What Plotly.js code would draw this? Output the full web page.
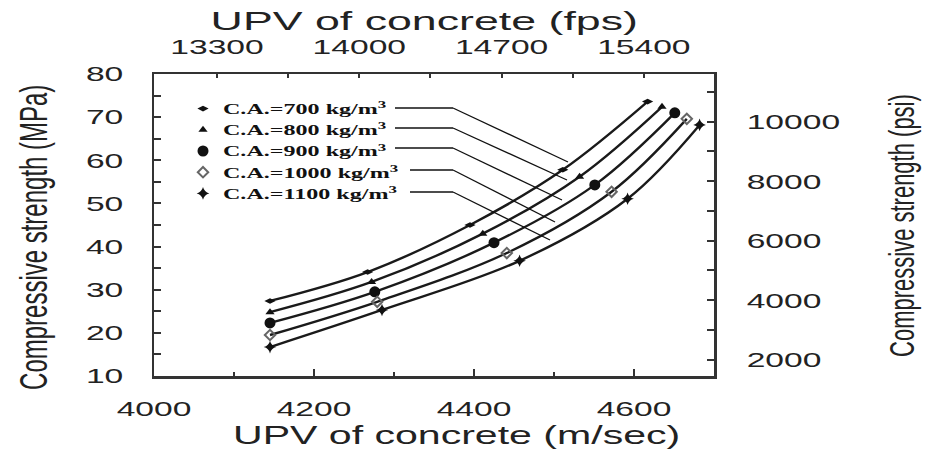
<!DOCTYPE html>
<html>
<head>
<meta charset="utf-8">
<script src="https://cdn.plot.ly/plotly-3.0.1.min.js"></script>
<style>
html,body{margin:0;padding:0;background:#fff;}
#chart{width:928px;height:450px;}
</style>
</head>
<body>
<div id="chart"></div>
<script>
// ---- data ----
const seriesNames = ["C.A.=700 kg/m<sup>3</sup>", "C.A.=800 kg/m<sup>3</sup>", "C.A.=900 kg/m<sup>3</sup>", "C.A.=1000 kg/m<sup>3</sup>", "C.A.=1100 kg/m<sup>3</sup>"];
const upv700  = [4145, 4267, 4395, 4511, 4617];
const fc700   = [27.4, 34.1, 45.0, 57.8, 73.6];
const upv800  = [4145, 4272, 4411, 4532, 4635];
const fc800   = [24.8, 31.8, 43.0, 56.2, 72.4];
const upv900  = [4145, 4276, 4425, 4551, 4651];
const fc900   = [22.3, 29.5, 40.9, 54.3, 71.0];
const upv1000 = [4145, 4279, 4441, 4572, 4666];
const fc1000  = [19.5, 27.2, 38.5, 52.7, 69.6];
const upv1100 = [4145, 4285, 4457, 4592, 4682];
const fc1100  = [16.7, 25.3, 36.7, 51.1, 68.2];
const xTickVals = [4000, 4200, 4400, 4600];
const topTickVals = [13300, 14000, 14700, 15400];
const yTickVals = [10, 20, 30, 40, 50, 60, 70, 80];
const psiTickVals = [2000, 4000, 6000, 8000, 10000];

// ---- geometry ----
const L = 154, R = 714, T = 74, B = 376, W = 928, H = 450;
const px = p => (p - L) / (R - L);
const py = p => (B - p) / (B - T);
const MPA2PSI = 145.038;

const xs = [upv700, upv800, upv900, upv1000, upv1100];
const ys = [fc700, fc800, fc900, fc1000, fc1100];
const symbols = ["diamond-wide", "triangle-up", "circle", "diamond-open", "star-diamond"];
const msizes = [8, 8, 11, 8, 9];
const mcolors = ["#111", "#111", "#111", "#666", "#111"];

const traces = [];
for (let i = 0; i < 5; i++) {
  traces.push({x: xs[i], y: ys[i], mode: "lines", line: {shape: "spline", color: "#1a1a1a", width: 2.4},
               showlegend: false, hoverinfo: "skip"});
}
for (let i = 0; i < 5; i++) {
  traces.push({x: xs[i], y: ys[i], mode: "markers", name: seriesNames[i],
               marker: {symbol: symbols[i], size: msizes[i], color: mcolors[i], line: {width: i === 3 ? 2 : 0, color: mcolors[i]}}});
}
// empty traces so that the secondary (fps / psi) axes are drawn
traces.push({x: [], y: [], xaxis: "x2", yaxis: "y", showlegend: false, hoverinfo: "skip", mode: "markers"});
traces.push({x: [], y: [], xaxis: "x", yaxis: "y2", showlegend: false, hoverinfo: "skip", mode: "markers"});

const axisCommon = {showgrid: false, zeroline: false, showline: true, linecolor: "#333", linewidth: 2.5,
                    ticks: "inside", tickcolor: "#333", tickwidth: 2, tickformat: "d", exponentformat: "none",
                    tickfont: {family: "Liberation Sans, Arial, sans-serif", size: 21, color: "#222"}};

const leaderStart = [[395,108],[395,128],[395,148],[410,170],[410,192]];
const leaderElbowX = 453;
const leaderEnd = [[568,162],[567,180],[562,200],[555,222],[550,240]];
const shapes = [];
for (let i = 0; i < 5; i++) {
  shapes.push({type: "line", xref: "paper", yref: "paper", x0: px(leaderStart[i][0]), y0: py(leaderStart[i][1]),
               x1: px(leaderElbowX), y1: py(leaderStart[i][1]), line: {color: "#111", width: 1.3}});
  shapes.push({type: "line", xref: "paper", yref: "paper", x0: px(leaderElbowX), y0: py(leaderStart[i][1]),
               x1: px(leaderEnd[i][0]), y1: py(leaderEnd[i][1]), line: {color: "#111", width: 1.3}});
}

const titleFont = {family: "Liberation Sans, Arial, sans-serif", size: 26, color: "#222"};
const annotations = [
  {text: "UPV of concrete (m/sec)", xref: "paper", yref: "paper", x: px(456), y: py(435), showarrow: false, xanchor: "center", yanchor: "middle", font: titleFont},
  {text: "UPV of concrete (fps)", xref: "paper", yref: "paper", x: px(424), y: py(21), showarrow: false, xanchor: "center", yanchor: "middle", font: titleFont},
  {text: "Compressive strength (MPa)", xref: "paper", yref: "paper", x: px(33), y: py(238), showarrow: false, textangle: -90, xanchor: "center", yanchor: "middle", font: Object.assign({}, titleFont, {size: 24})},
  {text: "Compressive strength (psi)", xref: "paper", yref: "paper", x: px(902), y: py(226), showarrow: false, textangle: -90, xanchor: "center", yanchor: "middle", font: Object.assign({}, titleFont, {size: 22})}
];

const layout = {
  width: W, height: H,
  margin: {l: L, r: W - R, t: T, b: H - B, pad: 0},
  paper_bgcolor: "#fff", plot_bgcolor: "#fff",
  xaxis: Object.assign({}, axisCommon, {range: [4000, 4700], tickvals: xTickVals, ticklen: 7, ticklabelstandoff: 12,
          minor: {dtick: 100, tick0: 4000, ticks: "inside", ticklen: 4, tickwidth: 2, tickcolor: "#333", showgrid: false}}),
  xaxis2: Object.assign({}, axisCommon, {overlaying: "x", side: "top", anchor: "y", range: [12990, 15745], tickvals: topTickVals,
          ticklen: 4, ticklabelstandoff: 9,
          minor: {dtick: 350, tick0: 13300, ticks: "inside", ticklen: 4, tickwidth: 2, tickcolor: "#333", showgrid: false}}),
  yaxis: Object.assign({}, axisCommon, {range: [10, 80], tickvals: yTickVals, ticklen: 7, ticklabelstandoff: 24,
          minor: {dtick: 5, tick0: 10, ticks: "inside", ticklen: 7, tickwidth: 2, tickcolor: "#333", showgrid: false}}),
  yaxis2: Object.assign({}, axisCommon, {overlaying: "y", side: "right", anchor: "x", range: [10 * MPA2PSI, 80 * MPA2PSI], tickvals: psiTickVals,
          ticklen: 7, ticklabelstandoff: 26,
          minor: {dtick: 1000, tick0: 0, ticks: "inside", ticklen: 7, tickwidth: 2, tickcolor: "#333", showgrid: false}}),
  showlegend: true,
  legend: {x: px(183), y: py(93), xanchor: "left", yanchor: "top", bgcolor: "rgba(0,0,0,0)", borderwidth: 0,
           font: {family: "Liberation Serif, Times New Roman, serif", size: 14, color: "#111", weight: "bold"},
           itemwidth: 30, tracegroupgap: 0},
  shapes: shapes,
  annotations: annotations
};

function stretchText() {
  document.querySelectorAll("#chart .legend [clip-path]").forEach(e => e.removeAttribute("clip-path"));
  document.querySelectorAll("#chart svg text").forEach(t => {
    const txt = t.textContent.trim();
    if (!txt) return;
    let s = 1.6;
    if (t.closest(".legend")) s = 1.72;
    else if (t.closest(".annotation")) s = /fps/.test(txt) ? 1.72 : 1.58;
    const b = t.getBBox();
    const m = t.getCTM();
    const tr = t.getAttribute("transform") || "";
    const anchor = t.getAttribute("text-anchor") || getComputedStyle(t).textAnchor || "start";
    const cy = b.y + b.height / 2;
    let extra;
    if (Math.abs(m.a) >= Math.abs(m.c)) {
      const ax = anchor === "end" ? b.x + b.width : (anchor === "middle" ? b.x + b.width / 2 : b.x);
      extra = `translate(${ax},${cy}) scale(${s},1) translate(${-ax},${-cy})`;
    } else {
      const cx = b.x + b.width / 2;
      extra = `translate(${cx},${cy}) scale(1,${s}) translate(${-cx},${-cy})`;
    }
    t.setAttribute("transform", (tr + " " + extra).trim());
  });
}

Plotly.newPlot("chart", traces, layout, {displayModeBar: false, staticPlot: true}).then(stretchText);
</script>
</body>
</html>
